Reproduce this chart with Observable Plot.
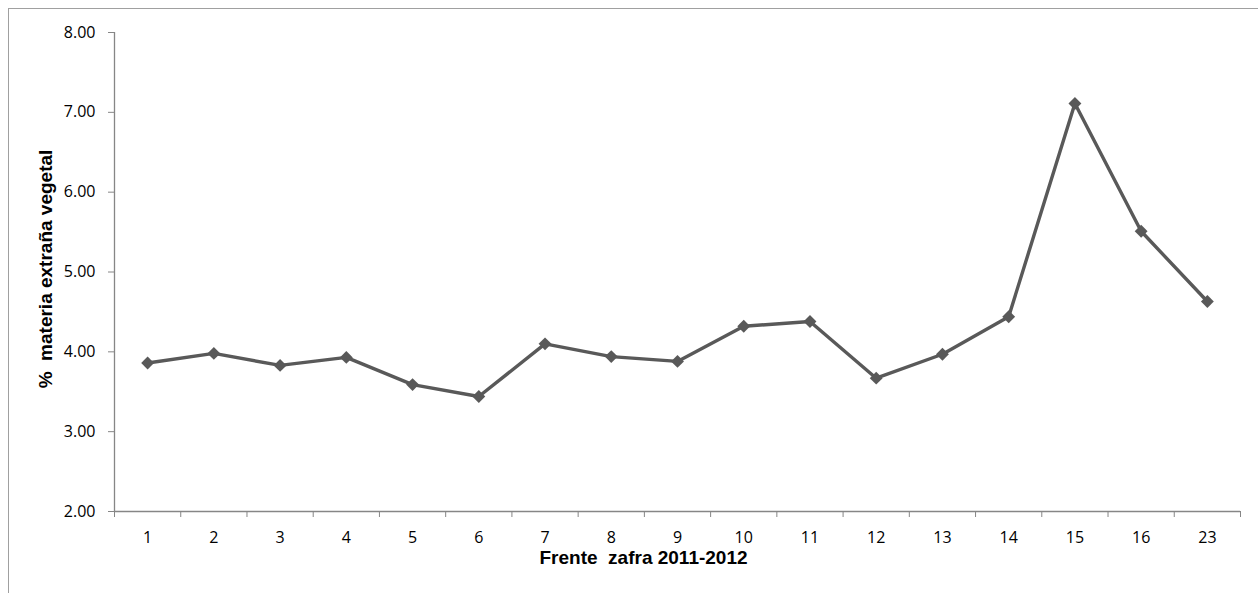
<!DOCTYPE html>
<html>
<head>
<meta charset="utf-8">
<script src="https://cdn.jsdelivr.net/npm/d3@7"></script>
<script src="https://cdn.jsdelivr.net/npm/@observablehq/plot@0.6"></script>
<style>
  html, body { margin: 0; padding: 0; background: #fff; }
  #chart { position: relative; width: 1258px; height: 593px; overflow: hidden; }
  #chart .border {
    position: absolute; left: 8px; top: 8px; width: 1400px; height: 800px;
    border: 1px solid #a0a0a0; pointer-events: none;
  }
  #chart svg { position: absolute; left: 0; top: 0; }
  #chart svg text { white-space: pre; }
</style>
</head>
<body>
<div id="chart"><div class="border"></div></div>
<script>
// Frentes de cosecha (categorías del eje X)
const frentes = ["1", "2", "3", "4", "5", "6", "7", "8", "9", "10", "11", "12", "13", "14", "15", "16", "23"];
// % de materia extraña vegetal por frente, zafra 2011-2012
const materiaExtrana = [3.86, 3.98, 3.83, 3.93, 3.59, 3.44, 4.10, 3.94, 3.88, 4.32, 4.38, 3.67, 3.97, 4.44, 7.11, 5.51, 4.63];
// Marcas del eje Y
const yTicks = [2, 3, 4, 5, 6, 7, 8];

const xTitle = "Frente  zafra 2011-2012";
const yTitle = "%  materia extraña vegetal";

const data = frentes.map((f, i) => ({pos: i + 1, frente: f, valor: materiaExtrana[i]}));
const positions = data.map(d => d.pos);
const boundaries = [0.5, ...positions.map(p => p + 0.5)];

const axisColor = "#868686";
const lineColor = "#595959";

const chart = Plot.plot({
  width: 1258,
  height: 593,
  marginLeft: 114,
  marginRight: 18,
  marginTop: 32,
  marginBottom: 82,
  style: {fontFamily: "'Open Sans', sans-serif", fontSize: "16px", color: "#000", background: "transparent"},
  x: {type: "linear", domain: [0.5, frentes.length + 0.5]},
  y: {domain: [2, 8]},
  marks: [
    // ejes
    Plot.ruleX([0.5], {stroke: axisColor, strokeWidth: 1.3}),
    Plot.ruleY([2], {stroke: axisColor, strokeWidth: 1.3}),
    Plot.axisY({ticks: yTicks, tickFormat: d => d.toFixed(2), tickSize: 6, tickPadding: 13, stroke: axisColor, fill: "#000", label: null}),
    Plot.axisX({ticks: boundaries, tickFormat: () => "", tickSize: 6, stroke: axisColor, label: null}),
    Plot.axisX({ticks: positions, tickFormat: p => frentes[p - 1], tickSize: 0, tickPadding: 20, fill: "#000", label: null}),
    // serie
    Plot.line(data, {x: "pos", y: "valor", stroke: lineColor, strokeWidth: 3.4}),
    Plot.dot(data, {x: "pos", y: "valor", symbol: "diamond2", r: 5.8, fill: lineColor, stroke: "none"}),
    // títulos de ejes
    Plot.text([xTitle], {frameAnchor: "bottom", lineAnchor: "top", textAnchor: "middle", dx: -34, dy: 38.5,
      fontFamily: "'Liberation Sans', Arial, sans-serif", fontWeight: "bold", fontSize: 19, fill: "#000"}),
    Plot.text([yTitle], {frameAnchor: "left", rotate: -90, textAnchor: "middle", lineAnchor: "middle", dx: -69, dy: -3,
      fontFamily: "'Liberation Sans', Arial, sans-serif", fontWeight: "bold", fontSize: 19, fill: "#000"})
  ]
});

document.getElementById("chart").appendChild(chart);
</script>
</body>
</html>
